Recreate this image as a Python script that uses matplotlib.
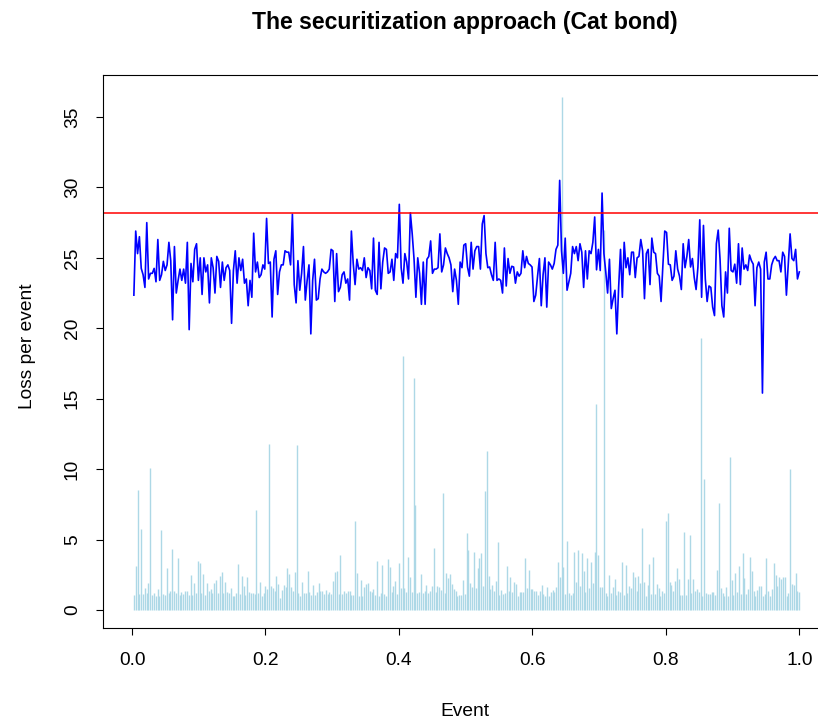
import numpy as np
import matplotlib
matplotlib.use('Agg')
import matplotlib.pyplot as plt

plt.rcParams['font.family'] = ['Liberation Sans', 'DejaVu Sans']

# loss per event on the cat bond (blue line)
loss_bond = [
    22.35, 26.9, 25.3, 26.5, 24.25, 23.8, 22.9, 27.5, 23.5, 23.9, 23.9, 24.25, 23.3, 26.3, 23.4, 23.8,
    24.75, 24.1, 24.5, 26.1, 24.8, 20.6, 25.8, 22.5, 23.4, 24.2, 23.4, 24.2, 23.2, 26.1, 19.9, 24.6,
    23.3, 25.6, 26.0, 23.4, 25.0, 22.4, 25.0, 24.0, 24.5, 21.8, 25.0, 24.3, 22.5, 25.1, 24.75, 22.9,
    24.7, 23.4, 24.3, 24.5, 24.1, 20.35, 24.1, 25.5, 23.2, 25.0, 24.1, 24.9, 23.2, 23.5, 21.6, 23.4,
    22.2, 26.75, 24.0, 24.7, 23.6, 23.8, 24.5, 24.2, 27.8, 24.6, 24.7, 20.8, 24.9, 25.5, 22.4, 24.0,
    24.5, 24.5, 25.5, 25.4, 25.4, 24.5,
    28.1, 23.1, 21.8, 24.8, 22.7, 23.9, 25.8, 22.0, 23.4, 24.5, 19.6, 23.4, 24.9, 22.0, 22.1, 23.5,
    24.2, 24.0, 23.9, 24.0, 24.2, 25.6, 25.5, 21.9, 25.3, 22.6, 22.9, 23.8, 24.0, 23.2, 23.5, 22.0,
    26.9, 24.6, 23.1, 24.9, 24.2, 24.3, 24.1, 25.0, 23.6, 24.3, 24.1, 22.8, 26.4, 22.7, 22.4, 26.1,
    22.8, 24.7, 25.7, 25.6, 23.9, 24.0, 24.9, 23.4, 25.3, 25.0, 28.8, 24.3, 23.2, 25.3, 24.7, 23.5,
    28.2, 26.7, 24.9, 22.2, 25.0, 23.9, 21.7, 24.7, 21.7, 24.9, 25.1, 26.2, 23.9, 24.2, 24.2, 24.3,
    26.7, 24.0, 24.5, 25.7, 25.3, 25.0, 24.5, 22.6, 24.2, 23.4,
    21.7, 24.7, 24.3, 25.9, 26.0, 24.35, 23.7, 26.1, 24.2, 25.5, 25.8, 25.8, 24.2, 27.4, 28.0, 25.3,
    24.3, 24.35, 23.8, 23.4, 26.1, 23.4, 23.5, 23.4, 22.5, 25.7, 23.0, 24.95, 23.9, 24.4, 24.35, 23.2,
    24.0, 23.7, 23.9, 25.5, 24.3, 25.1, 24.6, 24.5, 24.35, 21.9, 22.35, 23.7, 24.95, 21.6, 23.8, 25.0,
    21.5, 24.7, 24.5, 24.2, 24.6, 25.6, 25.9, 30.5, 25.5, 23.9, 26.4, 22.7, 23.3, 23.9, 25.8, 25.3,
    25.8, 24.8, 26.0, 25.4, 22.9, 25.5, 23.5, 25.5, 25.3, 26.1, 27.9, 24.15, 25.6, 24.1, 29.6, 25.3,
    24.0, 22.5, 24.9, 21.4, 22.1, 22.7, 19.6,
    22.95, 25.6, 22.2, 26.1, 24.3, 25.0, 23.8, 25.4, 25.4, 23.6, 25.0, 25.1, 26.3, 25.5, 22.1, 25.3,
    25.6, 23.1, 26.4, 25.4, 25.3, 23.9, 23.7, 21.9, 24.5, 26.9, 26.8, 24.55, 24.5, 23.4, 23.7, 25.5,
    24.2, 23.7, 22.75, 26.0, 24.3, 25.1, 26.3, 24.35, 24.95, 23.6, 22.75, 24.35, 27.7, 22.2, 27.3, 23.5,
    21.9, 23.0, 22.9, 21.5, 20.9, 26.0, 26.97, 24.9, 21.6, 20.8, 24.0, 22.5, 27.1, 24.1, 24.0, 24.55,
    23.2, 26.0, 23.1, 25.7, 24.2, 24.5, 24.1, 25.2, 24.8, 24.55, 21.6, 24.3, 24.7, 24.2, 15.4, 24.7,
    25.4, 23.5, 23.5, 24.5, 24.9, 25.1, 24.8, 24.8, 24.0, 25.4, 25.1, 22.35, 24.5, 26.7, 24.95, 24.8,
    25.6, 23.5, 24.0,
]

# raw loss per event (light blue spikes)
loss_event = [
    1.07, 3.12, 8.5, 1.13, 5.75, 1.13, 1.58, 1.18, 1.89, 10.1, 1.07, 1.18, 1.02, 1.49, 1.02, 5.7,
    1.13, 1.07, 2.96, 1.18, 1.36, 4.31, 1.36, 1.23, 3.67, 1.07, 1.25, 1.13, 1.36, 1.35, 1.07, 2.48,
    1.07, 1.94, 1.18, 3.48, 3.36, 1.18, 2.53, 1.07, 1.89, 1.36, 1.49, 1.18, 1.91, 2.13, 1.23, 2.41,
    2.72, 1.23, 2.01, 1.30, 1.18, 1.54, 1.02, 0.99, 1.18, 3.26, 1.13, 2.41, 1.72, 1.07, 2.31, 1.30,
    1.23, 1.18, 1.13, 7.1, 1.18, 2.01, 0.99, 1.18, 1.70, 1.49, 11.8, 1.70, 1.54, 1.36, 2.41, 1.84,
    0.83, 1.42, 1.77, 1.66, 2.96, 2.55, 1.61, 1.36, 2.72,
    11.7, 1.23, 0.99, 2.01, 1.18, 1.18, 2.79, 1.30, 1.07, 1.77, 1.07, 1.30, 1.94, 1.36, 1.36, 1.13,
    1.42, 1.13, 1.30, 1.13, 2.06, 2.67, 2.79, 1.13, 3.90, 1.13, 1.36, 1.18, 1.36, 1.36, 1.07, 1.07,
    6.34, 2.65, 0.99, 2.13, 0.99, 1.61, 1.84, 1.89, 1.36, 1.25, 1.49, 1.07, 3.48, 1.02, 1.23, 3.20,
    1.13, 1.02, 3.60, 3.07, 1.30, 1.70, 2.08, 1.13, 3.36, 1.58, 18.0, 1.58, 1.30, 3.78, 2.36, 1.30,
    16.5, 7.45, 1.18, 1.25, 2.53, 1.18, 1.36, 1.77, 1.18, 1.36, 1.70, 4.37, 1.30, 1.70, 1.61, 1.42,
    8.33, 1.18, 2.60, 2.25, 2.55, 1.84, 1.47, 1.36, 1.02, 1.07,
    1.07, 2.13, 1.13, 5.44, 4.26, 1.89, 1.66, 4.14, 1.54, 3.00, 3.66, 4.02, 1.72, 8.47, 11.3, 2.41,
    1.49, 1.77, 1.36, 2.08, 4.80, 1.07, 1.42, 1.13, 1.18, 3.15, 1.36, 2.32, 1.30, 2.01, 1.84, 0.99,
    1.25, 1.25, 1.25, 3.66, 1.58, 2.84, 1.47, 1.47, 1.36, 1.36, 1.07, 1.36, 1.77, 1.13, 0.99, 1.66,
    0.99, 1.25, 1.42, 1.30, 1.66, 3.43, 2.36, 36.4, 3.02, 1.13, 4.90, 1.23, 1.07, 1.18, 4.09, 2.01,
    4.26, 1.70, 4.07, 2.79, 1.30, 3.66, 1.58, 3.43, 1.89, 4.09, 14.6, 3.90, 1.66, 1.61, 27.0, 1.18,
    0.99, 2.48, 1.18, 1.61, 2.18, 1.07, 1.36, 1.30, 3.43, 1.07,
    3.17, 1.23, 1.72, 1.58, 2.72, 2.36, 1.35, 2.41, 1.89, 5.8, 1.96, 1.02, 1.77, 3.26, 1.13, 3.78,
    1.13, 1.82, 1.58, 1.02, 1.36, 1.18, 6.34, 6.86, 1.96, 1.77, 1.36, 2.06, 2.96, 2.20, 1.07, 1.07,
    5.54, 1.07, 2.18, 5.30, 1.18, 2.20, 1.36, 1.49, 1.25, 19.3, 1.02, 9.27, 1.18, 1.13, 1.13, 1.25,
    1.28, 1.07, 2.84, 7.57, 1.58, 1.18, 1.02, 1.66, 1.02, 10.88, 2.13, 1.07, 2.60, 1.30, 3.14, 1.13,
    4.02, 2.29, 1.13, 1.47, 3.78, 2.76, 1.36, 1.02, 1.42, 1.72, 1.70, 1.02, 1.13, 3.71, 1.36, 1.02,
    1.49, 3.31, 2.48, 1.72, 2.36, 2.20, 2.36, 2.31, 1.02, 1.18, 10.0, 1.84, 1.77, 2.65, 1.36, 1.25,
]

trigger_level = 28.15
x_ticks = [0.0, 0.2, 0.4, 0.6, 0.8, 1.0]
x_labels = ['0.0', '0.2', '0.4', '0.6', '0.8', '1.0']
y_ticks = [0, 5, 10, 15, 20, 25, 30, 35]

W, H = 818, 719
fig = plt.figure(figsize=(W / 100, H / 100), dpi=100)
# plot box runs past the right edge of the picture, like the reference
ax = fig.add_axes([103 / W, 91 / H, 723 / W, 553 / H])

x_event = np.arange(1, len(loss_event) + 1) / len(loss_event)
x_bond = np.arange(1, len(loss_bond) + 1) / len(loss_bond)

ax.vlines(x_event, 0, loss_event, colors='#ADD8E6', linewidth=1.0)
ax.plot(x_bond, loss_bond, color='blue', linewidth=1.2)
ax.axhline(trigger_level, color='red', linewidth=1.1)

ax.set_xlim(-0.0435, 1.04)
ax.set_ylim(-1.28, 37.98)
ax.set_xticks(x_ticks)
ax.set_xticklabels(x_labels)
ax.set_yticks(y_ticks)
ax.set_yticklabels([str(v) for v in y_ticks], rotation=90, va='center')
ax.tick_params(axis='both', length=5, width=0.8, labelsize=13.8, direction='out')
ax.tick_params(axis='x', pad=12.5)
ax.tick_params(axis='y', pad=11)
for s in ax.spines.values():
    s.set_linewidth(0.8)

fig.text(464.5 / W, 1 - 22 / H, 'The securitization approach (Cat bond)',
         ha='center', va='center', fontsize=16.6, fontweight='bold')
fig.text(464.5 / W, 1 - 711 / H, 'Event', ha='center', va='center', fontsize=13.8)
fig.text(27 / W, 1 - 346 / H, 'Loss per event', ha='center', va='center',
         rotation=90, fontsize=13.8)

fig.savefig('out.png', dpi=100)
